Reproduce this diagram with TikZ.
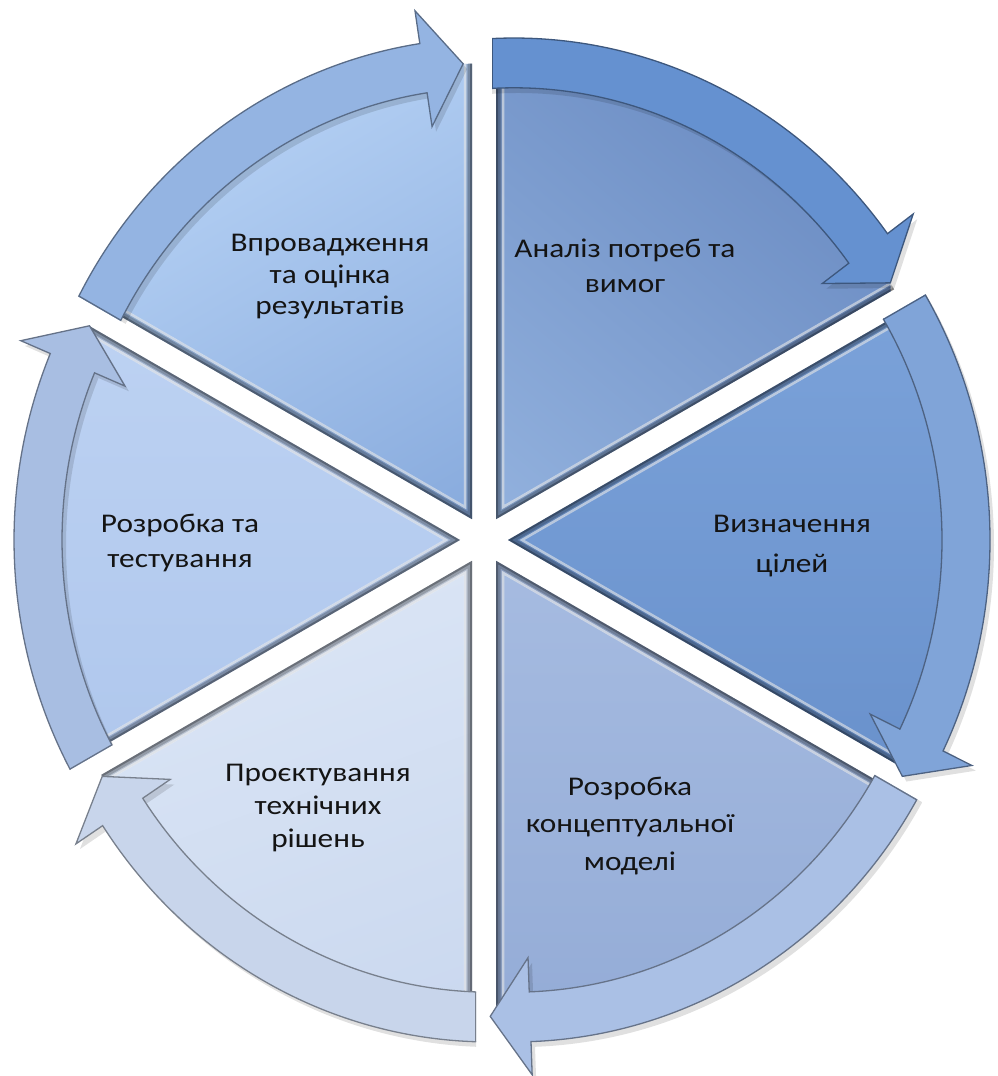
\documentclass[tikz,border=0pt]{standalone}
\usepackage{fontspec}
\setmainfont{Carlito}[FakeStretch=1.16]
\usetikzlibrary{calc}

\definecolor{txt}{HTML}{141414}
% segment fills (top / bottom of each gradient)
\definecolor{wAa}{HTML}{6A8BC2}\definecolor{wAb}{HTML}{94B3DF}
\definecolor{wBa}{HTML}{7CA3DA}\definecolor{wBb}{HTML}{6890CB}
\definecolor{wCa}{HTML}{A8BDE2}\definecolor{wCb}{HTML}{93ABD6}
\definecolor{wDa}{HTML}{DDE7F6}\definecolor{wDb}{HTML}{CAD8EF}
\definecolor{wEa}{HTML}{BED3F3}\definecolor{wEb}{HTML}{AEC6EC}
\definecolor{wFa}{HTML}{B9D4F6}\definecolor{wFb}{HTML}{86A9DC}
% arrow fills
\definecolor{bA}{HTML}{6591D0}
\definecolor{bB}{HTML}{80A4D8}
\definecolor{bC}{HTML}{AAC0E5}
\definecolor{bD}{HTML}{C8D5EB}
\definecolor{bE}{HTML}{A8BEE2}
\definecolor{bF}{HTML}{94B4E2}

% curved arrow around one segment (local coordinates, centre of the ring at origin)
\newcommand{\ringarrow}{(\mStart:464) arc[start angle=\mStart, end angle=\mBase, radius=464]
  -- (\mBase:496) -- (\mTip:440) -- (\mBase:383) -- (\mBase:416)
  arc[start angle=\mBase, end angle=\mStart, radius=416] -- cycle}

\begin{document}
\begin{tikzpicture}[x=1pt,y=1pt,
  stagetext/.style={align=center,text=txt,inner sep=0pt},
  lead/.style={font=\fontsize{27}{#1}\selectfont}]
\useasboundingbox (0,0) rectangle (998,1076);
\coordinate (P) at (484,536);

% ---- pie segments, each pushed out along its bisector ----
\foreach \i/\a/\ctop/\cbot/\sh in {1/30/wAa/wAb/-40, 2/-30/wBa/wBb/0, 3/-90/wCa/wCb/0,
                                   4/-150/wDa/wDb/20, 5/150/wEa/wEb/0, 6/90/wFa/wFb/30}{
  \pgfmathsetmacro\mBis{\a+30}
  \pgfmathsetmacro\mEdge{\a+60}
  \coordinate (T\i) at ($(P)+(\mBis:24)$);
  \coordinate (B\i) at ($(T\i)+(18,0)$);
  \coordinate (I\i) at ($(T\i)+(\mBis:14)$);
  \begin{scope}
    \clip (B\i) ellipse [x radius=440, y radius=456];
    \clip (T\i) -- ($(T\i)+(\a:900)$) -- ($(T\i)+(\mEdge:900)$) -- cycle;
    \shade[top color=\ctop, bottom color=\cbot, shading angle=\sh]
      ($(T\i)+(\mBis:250)$) circle[radius=270];
    \draw[black, opacity=.14, line width=16] ($(T\i)+(\a:900)$) -- (T\i) -- ($(T\i)+(\mEdge:900)$);
    \draw[black, opacity=.20, line width=9] ($(T\i)+(\a:900)$) -- (T\i) -- ($(T\i)+(\mEdge:900)$);
    \draw[black, opacity=.28, line width=4] ($(T\i)+(\a:900)$) -- (T\i) -- ($(T\i)+(\mEdge:900)$);
    \draw[white, opacity=.55, line width=2.5] ($(I\i)+(\a:900)$) -- (I\i) -- ($(I\i)+(\mEdge:900)$);
  \end{scope}
}

% ---- curved arrows around the segments ----
\foreach \i/\a/\tp/\bc in {1/30/31.2/bA, 2/-30/-31.2/bB, 3/-90/-93.1/bC,
                           4/-150/-151.8/bD, 5/150/152/bE, 6/90/93.5/bF}{
  \pgfmathsetmacro\mEdge{\a+60}
  \pgfmathsetmacro\mStart{\a+68}
  \pgfmathsetmacro\mTip{\tp}
  \pgfmathsetmacro\mBase{\tp+5.2}
  \pgfmathsetmacro\mNrm{\a+150}
  \pgfmathsetmacro\mCw{\a-30}
  \coordinate (S\i) at ($(T\i)+(\mNrm:4)$);
  \coordinate (Q\i) at ($(S\i)+(\mEdge:370)$);
  \coordinate (R\i) at ($(S\i)+(\mEdge:530)$);
  \begin{scope}
    \clip ($(S\i)+(\mEdge:1500)$) -- ($(S\i)+(\mEdge:1500)+(\mCw:1500)$)
       -- ($(S\i)+(\mEdge:-1500)+(\mCw:1500)$) -- ($(S\i)+(\mEdge:-1500)$) -- cycle;
    \begin{scope}[shift={(B\i)}, yscale=1.037]
      \fill[black, opacity=.12, shift={(4,-5)}] \ringarrow;
      \fill[\bc] \ringarrow;
      \draw[\bc!60!black, line width=1.3] \ringarrow;
      \begin{scope}
        \clip \ringarrow;
        \draw[\bc!60!black, line width=2.6] (Q\i) -- (R\i);
      \end{scope}
    \end{scope}
  \end{scope}
}

% ---- stage labels ----
\node[stagetext, lead=35] (s1) at (625,810) {Аналіз потреб та\\вимог};
\node[stagetext, lead=40] (s2) at (792,530) {Визначення\\цілей};
\node[stagetext, lead=37.5] (s3) at (630,250) {Розробка\\концептуальної\\моделі};
\node[stagetext, lead=33] (s4) at (318,268) {Проєктування\\технічних\\рішень};
\node[stagetext, lead=35] (s5) at (180,533) {Розробка та\\тестування};
\node[stagetext, lead=31.5] (s6) at (330,799) {Впровадження\\та оцінка\\результатів};
\end{tikzpicture}
\end{document}
